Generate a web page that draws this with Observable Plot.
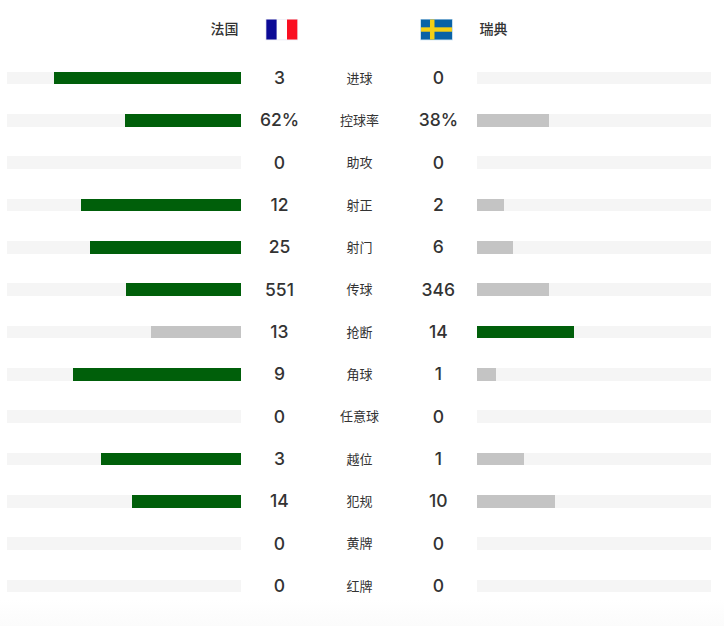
<!DOCTYPE html>
<html>
<head>
<meta charset="utf-8">
<script src="https://cdn.jsdelivr.net/npm/d3@7"></script>
<script src="https://cdn.jsdelivr.net/npm/@observablehq/plot@0.6"></script>
<style>
html,body{margin:0;padding:0;width:724px;height:626px;overflow:hidden;background:linear-gradient(to bottom,#fff 0,#fff 600px,#fbfbfb 626px);}
svg{display:block;}
</style>
</head>
<body>
<div id="chart"></div>
<script>
const categories = ["进球","控球率","助攻","射正","射门","传球","抢断","角球","任意球","越位","犯规","黄牌","红牌"];
const franceLabels = ["3","62%","0","12","25","551","13","9","0","3","14","0","0"];
const swedenLabels = ["0","38%","0","2","6","346","14","1","0","1","10","0","0"];
// bar length as a share of the track
const franceShare = [79.9,49.6,0,68.4,64.5,49.1,38.5,71.8,0,59.8,46.6,0,0];
const swedenShare = [0,30.8,0,11.5,15.4,30.8,41.5,8.1,0,20.1,33.3,0,0];
const teams = ["法国","瑞典"];

const GAP = 50.43, HEADER_Y = -1.157, H = 0.1476;
const FRANCE_TEXT = -34.2, SWEDEN_TEXT = 33.7, FRANCE_HEAD = -51.7, SWEDEN_HEAD = 51.3, FRANCE_FLAG = -33.2, SWEDEN_FLAG = 32.9;
const GREEN = "#005f0a", GREY = "#c4c4c4", TRACK = "#f5f5f5", INK = "#333";

const rows = categories.map((c, i) => {
  const f = parseFloat(franceLabels[i]), s = parseFloat(swedenLabels[i]);
  return {i, c, fl: franceLabels[i], sl: swedenLabels[i], fs: franceShare[i], ss: swedenShare[i],
          fc: f >= s ? GREEN : GREY, sc: s > f ? GREEN : GREY};
});

const svgUri = s => "data:image/svg+xml;utf8," + encodeURIComponent(s);
const franceFlag = svgUri(`<svg xmlns="http://www.w3.org/2000/svg" viewBox="0 0 33 22"><rect x="0.5" y="0.5" width="32" height="21" fill="#fff" stroke="#e6e6f2"/><rect x="1" y="1" width="10.3" height="20" fill="#0c0a96"/><rect x="21.7" y="1" width="10.3" height="20" fill="#fa0f21"/></svg>`);
const swedenFlag = svgUri(`<svg xmlns="http://www.w3.org/2000/svg" viewBox="0 0 33 22"><rect x="0.5" y="0.5" width="32" height="21" fill="#0a62a6" stroke="#c9e2f2"/><rect x="10" y="1" width="4.5" height="20" fill="#f6cf14"/><rect x="1" y="8.8" width="31" height="4.4" fill="#f6cf14"/></svg>`);

const cjk = '"Noto Sans CJK SC","Noto Sans",sans-serif';
const num = 'Inter,"Noto Sans CJK SC",sans-serif';

const chart = Plot.plot({
  width: 724, height: 626,
  marginTop: 0, marginRight: 0, marginBottom: 0, marginLeft: 0,
  style: {background: "transparent"},
  x: {axis: null, domain: [-(GAP + 100), GAP + 100], range: [7, 711]},
  y: {axis: null, domain: [0, 12], range: [78, 586]},
  marks: [
    Plot.rect(rows, {x1: -(GAP + 100), x2: -GAP, y1: d => d.i - H, y2: d => d.i + H, fill: TRACK, shapeRendering: "crispEdges"}),
    Plot.rect(rows, {x1: GAP, x2: GAP + 100, y1: d => d.i - H, y2: d => d.i + H, fill: TRACK, shapeRendering: "crispEdges"}),
    Plot.rect(rows.filter(d => d.fs > 0), {x1: d => -GAP - d.fs, x2: -GAP, y1: d => d.i - H, y2: d => d.i + H, fill: d => d.fc, shapeRendering: "crispEdges"}),
    Plot.rect(rows.filter(d => d.ss > 0), {x1: GAP, x2: d => GAP + d.ss, y1: d => d.i - H, y2: d => d.i + H, fill: d => d.sc, shapeRendering: "crispEdges"}),
    Plot.text(rows, {x: FRANCE_TEXT, y: "i", text: "fl", fontSize: 17.5, fontWeight: 500, fill: INK, fontFamily: num}),
    Plot.text(rows, {x: SWEDEN_TEXT, y: "i", text: "sl", fontSize: 17.5, fontWeight: 500, fill: INK, fontFamily: num}),
    Plot.text(rows, {x: 0, y: "i", text: "c", fontSize: 13, fill: INK, fontFamily: cjk}),
    Plot.text([teams[0]], {x: FRANCE_HEAD, y: HEADER_Y, text: d => d, textAnchor: "end", fontSize: 14, fontWeight: 500, fill: INK, fontFamily: cjk}),
    Plot.text([teams[1]], {x: SWEDEN_HEAD, y: HEADER_Y, text: d => d, textAnchor: "start", fontSize: 14, fontWeight: 500, fill: INK, fontFamily: cjk}),
    Plot.image([franceFlag], {x: FRANCE_FLAG, y: HEADER_Y, src: d => d, width: 33, height: 22}),
    Plot.image([swedenFlag], {x: SWEDEN_FLAG, y: HEADER_Y, src: d => d, width: 33, height: 22})
  ]
});
document.getElementById("chart").append(chart);
</script>
</body>
</html>
